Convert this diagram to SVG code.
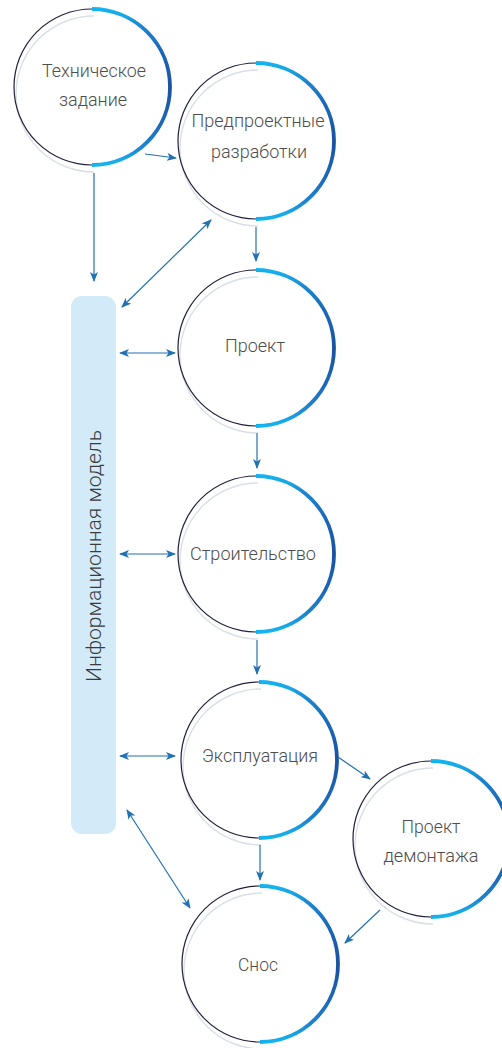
<svg xmlns="http://www.w3.org/2000/svg" width="502" height="1048" viewBox="0 0 502 1048">
  <style>
    .lbl { font-family: Roboto, "Liberation Sans", sans-serif; font-weight: 300; font-size: 19px; fill: #4d4d4d; text-anchor: middle; }
    .side { font-family: Roboto, "Liberation Sans", sans-serif; font-weight: 300; font-size: 21px; fill: #3a3a3a; text-anchor: middle; }
    .rim-l { fill: none; stroke: #231f3d; stroke-width: 1.2; }
    .rim-r { fill: none; stroke: url(#rimGrad); stroke-width: 3.8; }
    .shade { fill: none; stroke: #d9e0e6; stroke-width: 1.4; }
    .link { fill: none; stroke: #2271b3; stroke-width: 1.2; }
    .one { marker-end: url(#tip); }
    .two { marker-start: url(#tip); marker-end: url(#tip); }
  </style>
  <defs>
    <!-- vertical ramp across one ring, in the ring's local coordinates -->
    <linearGradient id="rimGrad" gradientUnits="userSpaceOnUse" x1="0" y1="-78" x2="0" y2="78">
      <stop offset="0" stop-color="#14b4ee"/>
      <stop offset="0.04" stop-color="#17a6e6"/>
      <stop offset="0.11" stop-color="#1c86d0"/>
      <stop offset="0.26" stop-color="#1c69b9"/>
      <stop offset="0.5" stop-color="#1a52a1"/>
      <stop offset="0.74" stop-color="#1c69b9"/>
      <stop offset="0.89" stop-color="#1c86d0"/>
      <stop offset="0.96" stop-color="#17a6e6"/>
      <stop offset="1" stop-color="#14b4ee"/>
    </linearGradient>
    <marker id="tip" viewBox="0 0 10 8" refX="9" refY="4" markerWidth="10" markerHeight="8" markerUnits="userSpaceOnUse" orient="auto-start-reverse">
      <path d="M0,0 L10,4 L0,8 L2.5,4 Z" fill="#2271b3"/>
    </marker>
    <!-- ring shared by every stage -->
    <g id="ring">
      <path class="shade" d="M2,-71 A78,78 0 0 0 2,85"/>
      <path class="rim-l" d="M0,-78 A78,78 0 0 0 0,78"/>
      <path class="rim-r" d="M0,-78 A78,78 0 0 1 0,78"/>
    </g>
  </defs>

  <!-- side bar: information model -->
  <g id="info-model">
    <rect x="71" y="296" width="45" height="538" rx="11" fill="#d3ebf9"/>
    <text class="side" transform="translate(101,556) rotate(-90)" textLength="252" lengthAdjust="spacingAndGlyphs">Информационная модель</text>
  </g>

  <!-- stage circles -->
  <g id="tech-task" transform="translate(92,87)">
    <use href="#ring"/>
    <text class="lbl" x="2" y="-10" textLength="104" lengthAdjust="spacingAndGlyphs">Техническое</text>
    <text class="lbl" x="1" y="19" textLength="68" lengthAdjust="spacingAndGlyphs">задание</text>
  </g>

  <g id="pre-design" transform="translate(256,141)">
    <use href="#ring"/>
    <text class="lbl" x="2" y="-14" textLength="133" lengthAdjust="spacingAndGlyphs">Предпроектные</text>
    <text class="lbl" x="3" y="17" textLength="96" lengthAdjust="spacingAndGlyphs">разработки</text>
  </g>

  <g id="project" transform="translate(256,348)">
    <use href="#ring"/>
    <text class="lbl" x="-1" y="4" textLength="60" lengthAdjust="spacingAndGlyphs">Проект</text>
  </g>

  <g id="construction" transform="translate(256,554)">
    <use href="#ring"/>
    <text class="lbl" x="-3" y="6" textLength="126" lengthAdjust="spacingAndGlyphs">Строительство</text>
  </g>

  <g id="operation" transform="translate(259,760)">
    <use href="#ring"/>
    <text class="lbl" x="1" y="2" textLength="116" lengthAdjust="spacingAndGlyphs">Эксплуатация</text>
  </g>

  <g id="dismantling-project" transform="translate(431,839)">
    <use href="#ring"/>
    <text class="lbl" x="0" y="-6" textLength="59" lengthAdjust="spacingAndGlyphs">Проект</text>
    <text class="lbl" x="0" y="23" textLength="95" lengthAdjust="spacingAndGlyphs">демонтажа</text>
  </g>

  <g id="demolition" transform="translate(260,964)">
    <use href="#ring"/>
    <text class="lbl" x="-2" y="7" textLength="40" lengthAdjust="spacingAndGlyphs">Снос</text>
  </g>

  <!-- connectors -->
  <g id="connectors">
    <line class="link one" x1="145" y1="154" x2="176" y2="158"/>
    <line class="link one" x1="94" y1="173" x2="94" y2="281"/>
    <line class="link one" x1="256" y1="227" x2="256" y2="261"/>
    <line class="link two" x1="122" y1="307" x2="211" y2="220"/>
    <line class="link two" x1="120" y1="353" x2="175" y2="353"/>
    <line class="link one" x1="257" y1="433" x2="257" y2="468"/>
    <line class="link two" x1="120" y1="554" x2="175" y2="554"/>
    <line class="link one" x1="257" y1="640" x2="257" y2="674"/>
    <line class="link two" x1="120" y1="756" x2="175" y2="756"/>
    <line class="link one" x1="338" y1="757" x2="370" y2="779"/>
    <line class="link one" x1="260" y1="845" x2="260" y2="880"/>
    <line class="link two" x1="127" y1="810" x2="190" y2="908"/>
    <line class="link one" x1="380" y1="910" x2="345" y2="943"/>
  </g>
</svg>
